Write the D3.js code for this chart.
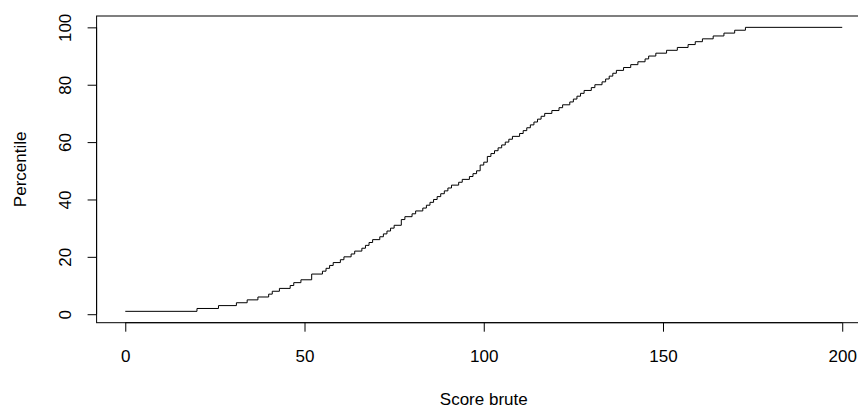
<!DOCTYPE html>
<html lang="en">
  <head>
    <meta charset="utf-8">
    <title>Percentile par score brut</title>
    <script src="https://d3js.org/d3.v7.min.js"></script>
    <style type="text/css">
      body { margin: 0; background: #fff; }
      text { font-family: "Liberation Sans", Arial, sans-serif; }
    </style>
  </head>
  <body>
    <script type="text/javascript">

      // Width and height
      var w = 858;
      var h = 410;

      // step positions (score brute) and percentile reached from that score on
      var scores = [0, 20, 26, 31, 34, 37, 40, 41, 43, 46, 47, 49, 52, 55, 56, 57, 58, 60, 61, 63,
                    64, 66, 67, 68, 69, 71, 72, 73, 74, 75, 77, 78, 80, 81, 83, 84, 85, 86, 87, 88,
                    89, 90, 91, 93, 94, 96, 97, 98, 99, 100, 101, 102, 103, 104, 105, 106, 107, 108, 110, 111,
                    112, 113, 114, 115, 116, 117, 119, 121, 122, 124, 125, 126, 127, 128, 130, 131, 133, 134, 135, 136,
                    137, 139, 141, 143, 145, 146, 148, 151, 154, 157, 159, 161, 164, 167, 170, 173, 200];
      var percentiles = [1, 2, 3, 4, 5, 6, 7, 8, 9, 10, 11, 12, 14, 15, 16, 17, 18, 19, 20, 21,
                         22, 23, 24, 25, 26, 27, 28, 29, 30, 31, 33, 34, 35, 36, 37, 38, 39, 40, 41, 42,
                         43, 44, 45, 46, 47, 48, 49, 50, 52, 53, 55, 56, 57, 58, 59, 60, 61, 62, 63, 64,
                         65, 66, 67, 68, 69, 70, 71, 72, 73, 74, 75, 76, 77, 78, 79, 80, 81, 82, 83, 84,
                         85, 86, 87, 88, 89, 90, 91, 92, 93, 94, 95, 96, 97, 98, 99, 100, 100];

      var xTicks = [0, 50, 100, 150, 200];
      var yTicks = [0, 20, 40, 60, 80, 100];

      var xLabel = "Score brute";
      var yLabel = "Percentile";

      var dataset = scores.map(function(s, i) {
        return { x: s, y: percentiles[i] };
      });

      // plot region (R style, 4% padding round the data range)
      var plotLeft = 96.6, plotRight = 870.9, plotTop = 16, plotBottom = 322.7;

      var xScale = d3.scaleLinear()
                     .domain([-8, 208])
                     .range([plotLeft, plotRight]);

      var yScale = d3.scaleLinear()
                     .domain([-2.96, 103.96])
                     .range([plotBottom, plotTop]);

      var svg = d3.select("body")
                  .append("svg")
                  .attr("width", w)
                  .attr("height", h);

      // Step line
      var line = d3.line()
                   .x(function(d) { return xScale(d.x); })
                   .y(function(d) { return yScale(d.y); })
                   .curve(d3.curveStepAfter);

      svg.append("path")
         .datum(dataset)
         .attr("d", line)
         .attr("fill", "none")
         .attr("stroke", "#000")
         .attr("stroke-width", 1);

      // Box
      svg.append("rect")
         .attr("x", plotLeft)
         .attr("y", plotTop)
         .attr("width", plotRight - plotLeft)
         .attr("height", plotBottom - plotTop)
         .attr("fill", "none")
         .attr("stroke", "#000")
         .attr("stroke-width", 1);

      // Axes
      var xAxis = d3.axisBottom(xScale)
                    .tickValues(xTicks)
                    .tickSize(9)
                    .tickSizeOuter(0);

      var gx = svg.append("g")
                  .attr("transform", "translate(0," + plotBottom + ")")
                  .call(xAxis);

      var yAxis = d3.axisLeft(yScale)
                    .tickValues(yTicks)
                    .tickSize(9)
                    .tickSizeOuter(0);

      var gy = svg.append("g")
                  .attr("transform", "translate(" + plotLeft + ",0)")
                  .call(yAxis);

      gx.select(".domain")
        .attr("d", "M" + xScale(0) + ",0H" + xScale(200));
      gy.select(".domain")
        .attr("d", "M0," + yScale(0) + "V" + yScale(100));

      svg.selectAll(".tick line").attr("stroke", "#000");
      svg.selectAll(".domain").attr("stroke", "#000");

      gx.selectAll(".tick text")
        .attr("font-size", "17px")
        .attr("fill", "#000")
        .attr("dy", 0)
        .attr("y", 39);

      // y tick labels rotated, like R's las = 0
      gy.selectAll(".tick text")
        .attr("font-size", "17px")
        .attr("fill", "#000")
        .attr("x", null)
        .attr("dy", 0)
        .attr("text-anchor", "middle")
        .attr("transform", "translate(-26,0) rotate(-90)");

      // Axis titles
      svg.append("text")
         .attr("x", xScale(100))
         .attr("y", 405)
         .attr("text-anchor", "middle")
         .attr("font-size", "17px")
         .attr("fill", "#000")
         .text(xLabel);

      svg.append("text")
         .attr("transform", "translate(25.5," + ((plotTop + plotBottom) / 2) + ") rotate(-90)")
         .attr("text-anchor", "middle")
         .attr("font-size", "17px")
         .attr("fill", "#000")
         .text(yLabel);

    </script>
  </body>
</html>
